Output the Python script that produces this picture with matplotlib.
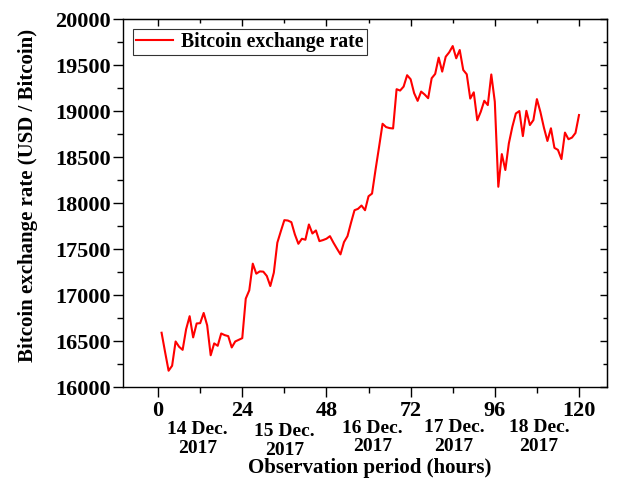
# Bitcoin exchange rate over the 120-hour observation window (14-18 Dec. 2017)

import numpy as np
import matplotlib.pyplot as plt
from matplotlib.ticker import MultipleLocator

plt.rcParams['font.family'] = 'Liberation Serif'
plt.rcParams['font.weight'] = 'bold'

hours = np.arange(1, 121)
rate = [
    16590, 16380, 16177, 16231, 16495, 16437, 16404, 16629, 16770, 16539,
    16691, 16694, 16805, 16670, 16345, 16474, 16448, 16582, 16564, 16553,
    16430, 16495, 16513, 16531, 16961, 17051, 17341, 17232, 17257, 17254,
    17207, 17098, 17243, 17569, 17694, 17814, 17810, 17792, 17659, 17557,
    17612, 17601, 17767, 17669, 17702, 17586, 17597, 17612, 17640, 17569,
    17504, 17442, 17575, 17640, 17785, 17922, 17937, 17973, 17922, 18074,
    18103, 18363, 18609, 18862, 18826, 18815, 18811, 19238, 19223, 19266,
    19390, 19346, 19195, 19111, 19212, 19180, 19140, 19357, 19404, 19581,
    19429, 19591, 19639, 19707, 19574, 19664, 19447, 19400, 19136, 19204,
    18900, 18993, 19112, 19065, 19398, 19101, 18177, 18532, 18359, 18648,
    18829, 18974, 19000, 18728, 19003, 18848, 18902, 19130, 18990, 18820,
    18675, 18813, 18600, 18578, 18478, 18766, 18694, 18712, 18762, 18957,
]

day_labels = ['14 Dec.\n2017', '15 Dec.\n2017', '16 Dec.\n2017',
              '17 Dec.\n2017', '18 Dec.\n2017']
day_x = [11.2, 36.0, 61.1, 84.4, 108.6]
day_y = [-0.141, -0.147, -0.137, -0.136, -0.136]

fig = plt.figure(figsize=(6.19, 4.86), dpi=100)
ax = fig.add_axes([0.1987, 0.2037, 0.782, 0.757])

ax.plot(hours, rate, color='red', linewidth=1.5, label='Bitcoin exchange rate')

ax.set_xlim(-10, 128)
ax.set_ylim(16000, 20000)
ax.xaxis.set_major_locator(MultipleLocator(24))
ax.xaxis.set_minor_locator(MultipleLocator(12))
ax.yaxis.set_major_locator(MultipleLocator(500))
ax.yaxis.set_minor_locator(MultipleLocator(250))

ax.tick_params(which='both', direction='out', labelsize=16, width=1.0)
ax.tick_params(which='major', length=7)
ax.tick_params(which='minor', length=4)
ax.tick_params(axis='y', pad=2)
ax.tick_params(axis='x', pad=3)

# inward ticks on the top and right frame
top = ax.secondary_xaxis('top')
top.xaxis.set_major_locator(MultipleLocator(24))
top.xaxis.set_minor_locator(MultipleLocator(12))
top.tick_params(which='both', direction='in', labeltop=False, width=1.0)
top.tick_params(which='major', length=5)
top.tick_params(which='minor', length=3)
right = ax.secondary_yaxis('right')
right.yaxis.set_major_locator(MultipleLocator(500))
right.yaxis.set_minor_locator(MultipleLocator(250))
right.tick_params(which='both', direction='in', labelright=False, width=1.0)
right.tick_params(which='major', length=5)
right.tick_params(which='minor', length=3)

for s in ax.spines.values():
    s.set_linewidth(1.0)

for lab, x, y in zip(day_labels, day_x, day_y):
    ax.text(x, y, lab, transform=ax.get_xaxis_transform(), ha='center',
            va='center', fontsize=14, fontweight='bold', linespacing=1.1)

ax.set_xlabel('Observation period (hours)', fontsize=15, fontweight='bold')
ax.xaxis.set_label_coords(0.51, -0.193)
ax.set_ylabel('Bitcoin exchange rate (USD / Bitcoin)', fontsize=15, fontweight='bold')
ax.yaxis.set_label_coords(-0.176, 0.52)

leg = ax.legend(loc='upper left', fontsize=14.2, frameon=True, fancybox=False,
                edgecolor='black', handlelength=1.9, borderpad=0.15,
                borderaxespad=0.5, handletextpad=0.4)
leg.get_frame().set_linewidth(0.8)

fig.savefig('out.png', dpi=100)
